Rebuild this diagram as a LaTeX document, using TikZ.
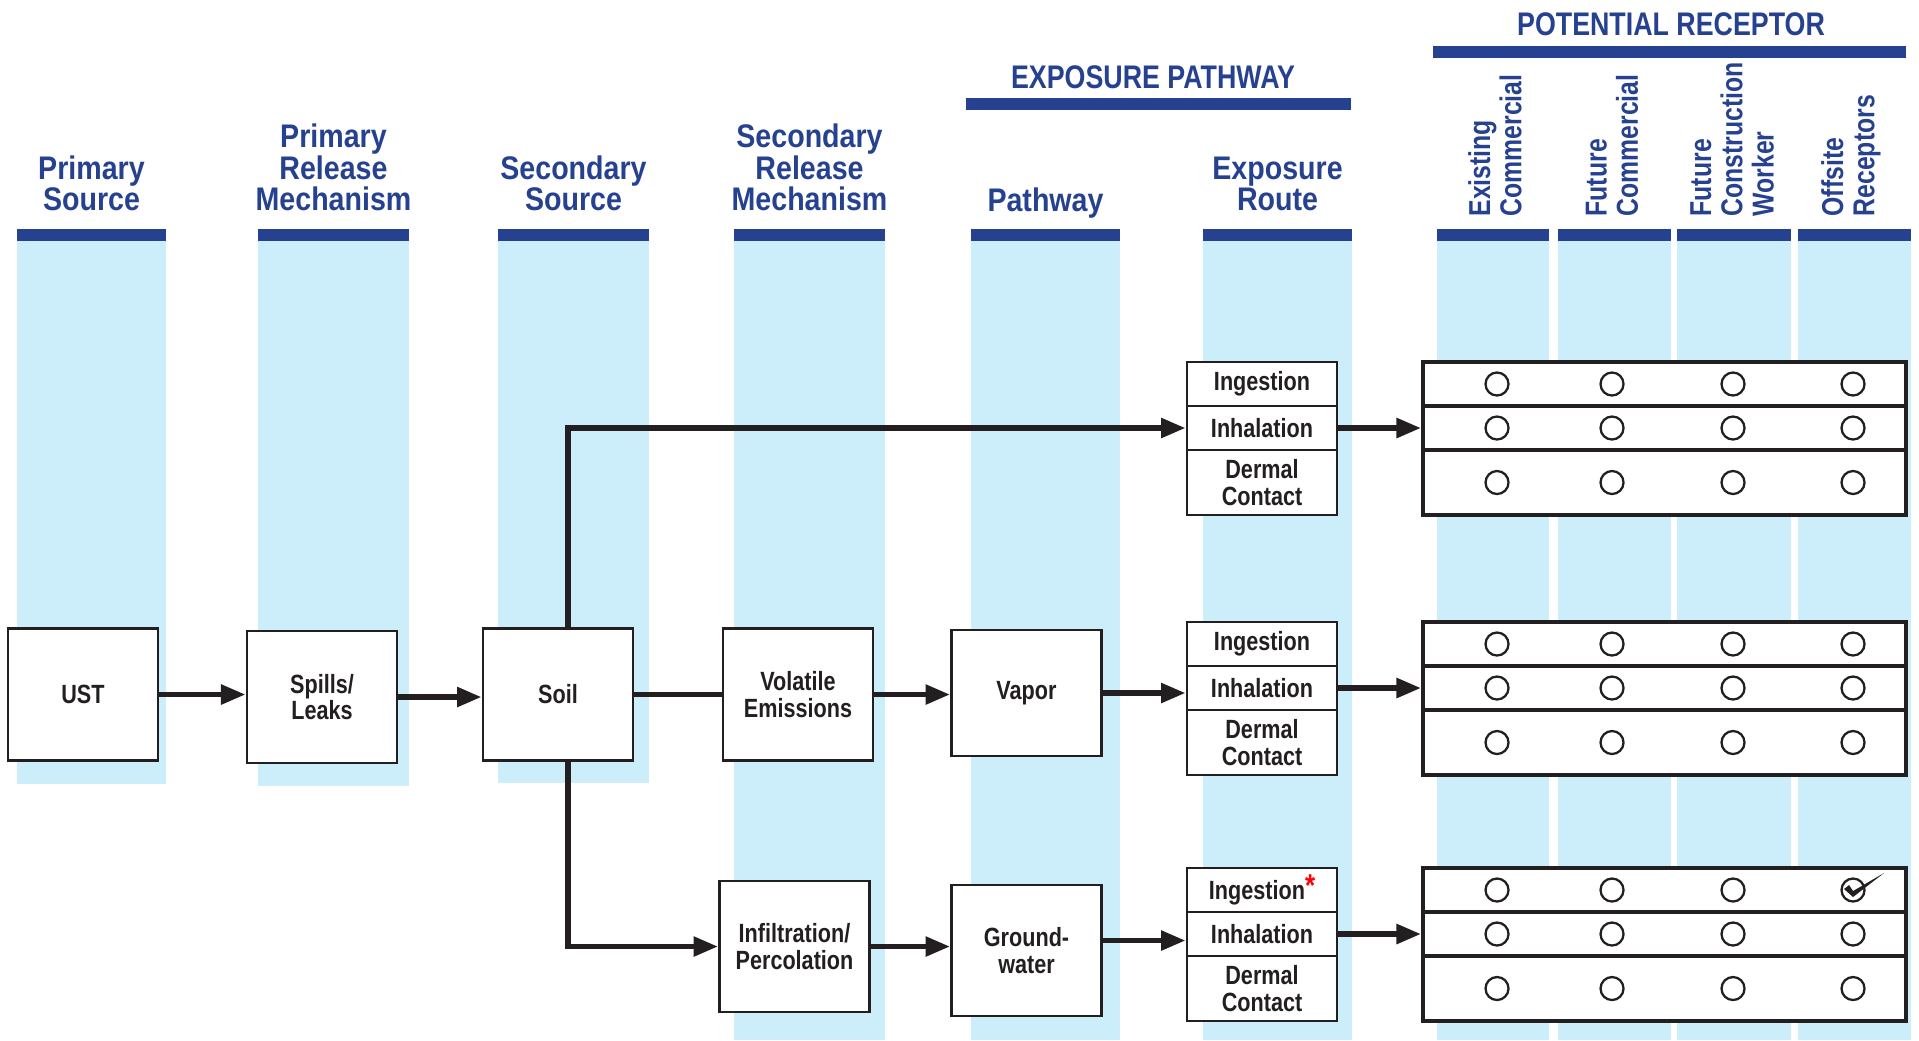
\documentclass[tikz,border=0pt]{standalone}
\usepackage{fontspec}
\setmainfont{Liberation Sans}[FakeStretch=0.82]
\newfontfamily\hdrfont{Liberation Sans}[FakeStretch=0.875]
\usetikzlibrary{arrows.meta, calc}

\definecolor{barblue}{RGB}{38,65,143}
\definecolor{bandblue}{RGB}{204,237,250}
\definecolor{inkblack}{RGB}{35,31,32}

\tikzset{
    hdr/.style={text=barblue, font=\hdrfont\bfseries\fontsize{9.3}{9.1}\selectfont, align=center, inner sep=0pt, anchor=south},
    bighdr/.style={text=barblue, font=\bfseries\fontsize{9.3}{9.1}\selectfont, inner sep=0pt, anchor=base},
    rechdr/.style={text=barblue, font=\bfseries\fontsize{8.6}{8.9}\selectfont, align=left, inner sep=0pt, rotate=90, anchor=west},
    procbox/.style={draw=inkblack, line width=0.8pt, fill=white, minimum width=15mm, minimum height=13.2mm, inner sep=0pt, align=center, text=inkblack, font=\bfseries\fontsize{7.5}{7.6}\selectfont},
    routecell/.style={draw=inkblack, line width=0.8pt, fill=white, minimum width=15mm, inner sep=0pt, align=center, text=inkblack, font=\bfseries\fontsize{7.5}{7.6}\selectfont},
    reccell/.style={draw=inkblack, line width=1.1pt, fill=white, minimum width=48.3mm, inner sep=0pt},
    flow/.style={draw=inkblack, line width=1.6pt, -{Triangle[length=7pt,width=5.4pt]}},
    flowline/.style={draw=inkblack, line width=1.6pt}
}

\begin{document}
\begin{tikzpicture}[x=0.1mm, y=-0.1mm]

        \useasboundingbox (0,0) rectangle (1919,1040);

        % Column bands with their header bars
        \foreach \xa/\xb/\yb in {17/166/784, 258/409/786, 498/649/783, 734/885/1040, 971/1120/1040, 1203/1352/1040, 1437/1549/1040, 1558/1671/1040, 1677/1791/1040, 1798/1911/1040} {
            \fill[bandblue] (\xa,241) rectangle (\xb,\yb);
            \fill[barblue] (\xa,229) rectangle (\xb,241);
        }

        \foreach \x/\y/\txt [count=\i] in {91.5/212/{Primary\\Source}, 333.5/212/{Primary\\Release\\Mechanism}, 573.5/212/{Secondary\\Source}, 809.5/212/{Secondary\\Release\\Mechanism}, 1045.5/219/{Pathway}, 1277.5/212/{Exposure\\Route}} {
            \node[hdr] (hd\i) at (\x,\y) {\txt};
        }

        \node[bighdr] (exphd) at (1153,88) {EXPOSURE PATHWAY};
        \fill[barblue] (966,98) rectangle (1351,110);

        \node[bighdr] (rechd) at (1671,35) {POTENTIAL RECEPTOR};
        \fill[barblue] (1433,46) rectangle (1906,58);

        \foreach \x/\txt [count=\i] in {1495/{Existing\\Commercial}, 1612/{Future\\Commercial}, 1732/{Future\\Construction\\Worker}, 1851/{Offsite\\Receptors}} {
            \node[rechdr] (rl\i) at (\x,217) {\txt};
        }

        % Sources and release mechanisms
        \node[procbox] (ust) at (83,694.5) {UST};
        \node[procbox] (spills) at (322,697) {Spills/\\Leaks};
        \node[procbox] (soil) at (558,694.5) {Soil};
        \node[procbox] (volatile) at (798,694.5) {Volatile\\Emissions};
        \node[procbox, minimum height=12.6mm] (vapor) at (1026.5,693) {Vapor};
        \node[procbox, minimum height=13.1mm] (infil) at (794.5,946.5) {Infiltration/\\Percolation};
        \node[procbox, minimum height=13.1mm] (gw) at (1026.5,950.5) {Ground-\\water};

        % Exposure routes and receptor tables
        \foreach \t/\g/\ingtxt in {362/1/Ingestion, 622/2/Ingestion, 868/3/{Ingestion\raisebox{0.12em}{\textcolor{red}{\fontsize{9}{9}\selectfont *}}}} {
            \node[routecell, minimum height=4.4mm] (ing\g) at (1262,\t+22) {\ingtxt};
            \node[routecell, minimum height=4.4mm] (inh\g) at (1262,\t+66) {Inhalation};
            \node[routecell, minimum height=6.5mm] (der\g) at (1262,\t+120.5) {Dermal\\Contact};
            \node[reccell, minimum height=4.4mm] (rec\g a) at (1664.5,\t+22) {};
            \node[reccell, minimum height=4.4mm] (rec\g b) at (1664.5,\t+66) {};
            \node[reccell, minimum height=6.5mm] (rec\g c) at (1664.5,\t+120.5) {};
            \foreach \x in {1497, 1612, 1733, 1853} {
                \foreach \dy in {22, 66, 120.5} {
                    \draw[inkblack, line width=0.65pt] (\x,\t+\dy) circle[radius=1.15mm];
                }
            }
        }

        % check mark
        \fill[inkblack] (1844,889) -- (1849,885) -- (1853,891) -- (1884,873) -- (1853,897) -- cycle;

        % Flow connectors
        \draw[flow] (ust.east) -- (ust.east -| spills.west);
        \draw[flow] (spills.east) -- (spills.east -| soil.west);
        \draw[flowline] (soil.east) -- (soil.east -| volatile.west);
        \draw[flow] (volatile.east) -- (volatile.east -| vapor.west);
        \draw[flow] (vapor.east) -- (vapor.east -| inh2.west);
        \draw[flow] ([xshift=1mm]soil.north) |- (inh1.west);
        \draw[flow] ([xshift=1mm]soil.south) |- (infil.west);
        \draw[flow] (infil.east) -- (infil.east -| gw.west);
        \draw[flow] ([yshift=1mm]gw.east) -- ([yshift=1mm]gw.east -| inh3.west);
        \foreach \g in {1,2,3} {
            \draw[flow] (inh\g.east) -- (rec\g b.west);
        }

    \end{tikzpicture}
\end{document}
